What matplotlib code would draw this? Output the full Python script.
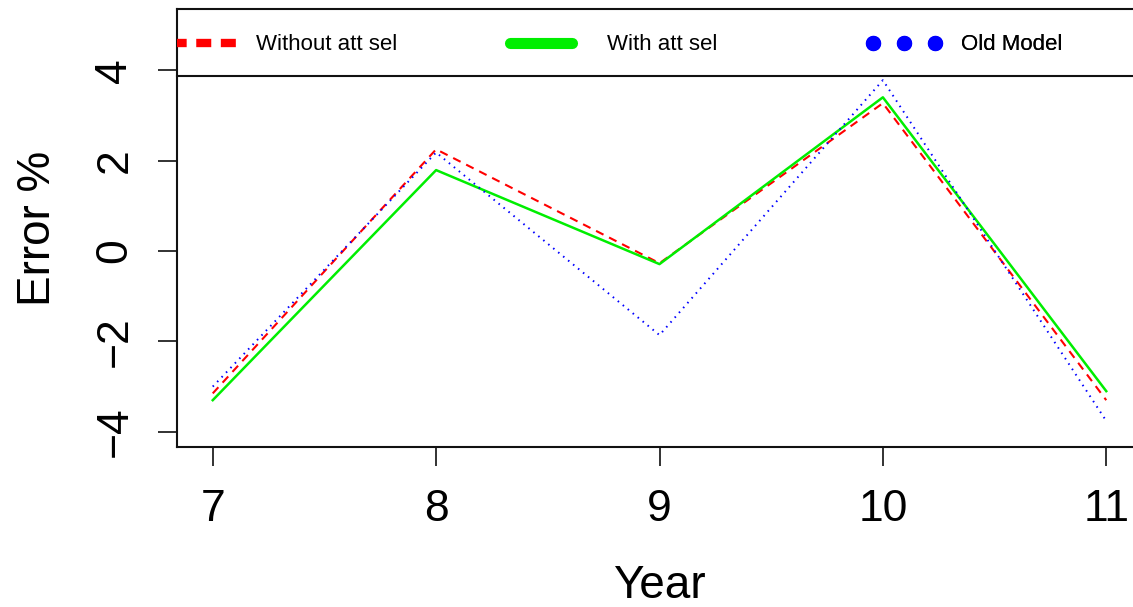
"""
Error % per year: model with / without attribute selection vs old model.
Recreated in the look of an R base-graphics line plot.
"""
import matplotlib
matplotlib.use("Agg")
import matplotlib.pyplot as plt

# ─── Data ─────────────────────────────────────────────────────────────────────
years = [7, 8, 9, 10, 11]
err_without_sel = [-3.15, 2.25, -0.27, 3.27, -3.30]
err_with_sel    = [-3.30, 1.79, -0.29, 3.40, -3.10]
err_old_model   = [-3.00, 2.18, -1.86, 3.78, -3.76]

series_labels = ["Without att sel", "With att sel", "Old Model"]
y_ticks = [-4, -2, 0, 2, 4]
x_ticks = [7, 8, 9, 10, 11]

# ─── Figure ───────────────────────────────────────────────────────────────────
plt.rcParams["font.family"] = ["Liberation Sans", "DejaVu Sans"]

W, H = 1133, 607
fig = plt.figure(figsize=(W / 100, H / 100), dpi=100)
# plot region: left edge x=177px, bottom y=447px, top y=9px, right slightly past the image
ax = fig.add_axes([177 / W, (H - 447) / H, (1142 - 177) / W, (447 - 9) / H])

ax.plot(years, err_without_sel, color="#ff0000", lw=1.5, ls=(0, (4, 3)))
ax.plot(years, err_with_sel, color="#00ee00", lw=1.8, ls="-")
ax.plot(years, err_old_model, color="#0000ff", lw=1.4, ls=(0, (0.8, 2.5)))

ax.set_xlim(6.84, 11.16)
ax.set_ylim(-4.336, 5.354)

ax.set_xticks(x_ticks)
ax.set_yticks(y_ticks)
ax.set_xticklabels([str(v) for v in x_ticks])
ax.set_yticklabels(["\u22124", "\u22122", "0", "2", "4"], rotation=90, va="center")
ax.tick_params(axis="both", length=14, width=1.3, labelsize=32, color="#222222")
ax.tick_params(axis="x", pad=16)
ax.tick_params(axis="y", pad=16)

for sp in ax.spines.values():
    sp.set_linewidth(1.5)
    sp.set_color("#111111")

ax.set_xlabel("Year", fontsize=33, labelpad=25)
ax.set_ylabel("Error %", fontsize=33, labelpad=25)

# legend band along the top of the plot region
band_bottom = (447 - 76) / 438
ax.plot([0, 1], [band_bottom, band_bottom], transform=ax.transAxes,
        color="#111111", lw=1.5, clip_on=False)

handles = [
    plt.Line2D([], [], color="#ff0000", lw=6, ls=(0.4, (1.8, 1.15))),
    plt.Line2D([], [], color="#00ee00", lw=8, solid_capstyle="round"),
    plt.Line2D([], [], color="#0000ff", ls="none", marker="o", ms=10),
]
anchors = [-0.0093, 0.3378, 0.7145]
text_pads = [0.55, 1.3, 0.84]
legend_y = (447 - 45) / 438
for i, (h, lab, xa, tp) in enumerate(zip(handles, series_labels, anchors, text_pads)):
    leg = ax.legend([h], [lab], loc="center left", bbox_to_anchor=(xa, legend_y),
                    frameon=False, fontsize=16, handlelength=3.4,
                    handletextpad=tp, borderpad=0, borderaxespad=0, numpoints=3)
    if i == 0:
        for ln in leg.get_lines():
            ln.set_clip_box(ax.bbox)
            ln.set_clip_on(True)
    ax.add_artist(leg)

fig.savefig("out.png", dpi=100)
